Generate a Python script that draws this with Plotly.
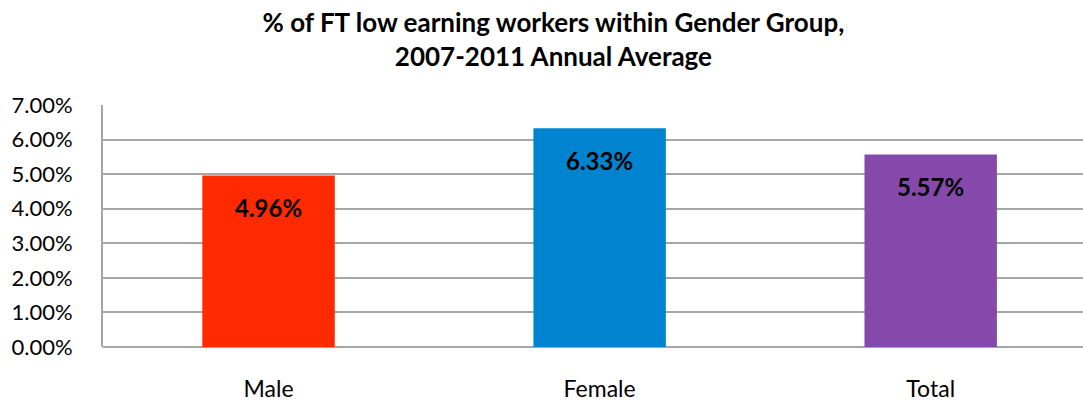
import plotly.graph_objects as go

# Share of full-time low earning workers by gender group
categories = ["Male", "Female", "Total"]
shares = [4.96, 6.33, 5.57]  # percent
bar_colors = ["#FF2A00", "#0084D0", "#8549AB"]
y_ticks = [0, 1, 2, 3, 4, 5, 6, 7]
y_tick_labels = [f"{v:.2f}%" for v in y_ticks]

FONT = "Lato, 'Open Sans', sans-serif"

fig = go.Figure()
fig.add_trace(go.Bar(
    x=categories,
    y=shares,
    marker=dict(color=bar_colors, line=dict(width=0)),
    width=0.4,
    hoverinfo="skip",
))

for cat, val in zip(categories, shares):
    fig.add_annotation(
        x=cat, y=val, text=f"<b>{val:.2f}%</b>",
        showarrow=False, yshift=-32,
        font=dict(family=FONT, size=24, color="#000000"),
    )

fig.update_layout(
    width=1083, height=402,
    margin=dict(l=103, r=0, t=105, b=53),
    paper_bgcolor="white", plot_bgcolor="white",
    showlegend=False,
    title=dict(
        text="<b>% of FT low earning workers within Gender Group,<br>2007-2011 Annual Average</b>",
        x=0.511, xanchor="center", y=0.92, yanchor="top",
        font=dict(family=FONT, size=26, color="#000000"),
    ),
    bargap=0.6,
)

fig.update_xaxes(
    range=[-0.5, 2.46],
    showgrid=False,
    showline=False,
    ticks="",
    tickfont=dict(family=FONT, size=23, color="#000000"),
    ticklabelstandoff=26,
)
fig.update_yaxes(
    range=[0, 7],
    tickvals=y_ticks,
    ticktext=y_tick_labels,
    showgrid=True, gridcolor="#A6A6A6", gridwidth=2,
    showline=True, linecolor="#A6A6A6", linewidth=2,
    zeroline=True, zerolinecolor="#A6A6A6", zerolinewidth=2,
    ticks="",
    tickfont=dict(family=FONT, size=22, color="#000000"),
    ticklabelstandoff=24,
)

fig.write_html("out.html")
